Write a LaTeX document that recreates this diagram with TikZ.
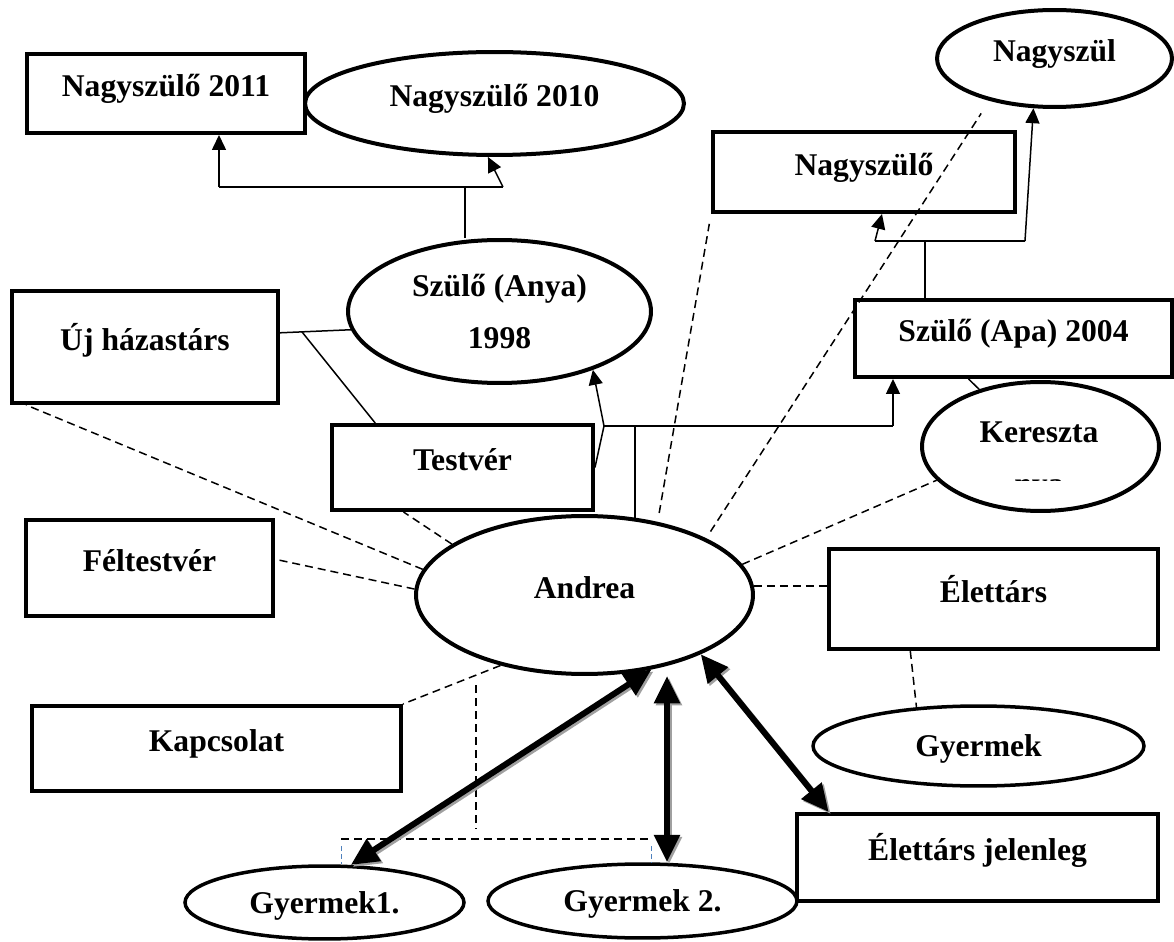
\documentclass[tikz,border=0pt]{standalone}
\usepackage{fontspec}
\setmainfont{Liberation Serif}
\usetikzlibrary{shapes.geometric,arrows.meta,calc}
\definecolor{shadegray}{RGB}{160,160,160}
\definecolor{tickblue}{RGB}{79,129,189}
\tikzset{
    person/.style={draw, line width=0.08cm, fill=white, inner sep=0pt, text height=12.6pt, text depth=9pt},
    oval/.style={ellipse, draw, line width=0.08cm, fill=white, inner sep=0pt},
    ovaltext/.style={text height=12.6pt, text depth=9pt},
    kidoval/.style={oval, line width=0.07cm, text height=16pt, text depth=4pt},
    tie/.style={line width=0.03cm},
    tiearrow/.style={tie, -{Triangle[length=0.3cm,width=0.28cm]}},
    rel/.style={line width=0.03cm, dash pattern=on 0.16cm off 0.1cm},
    kidtick/.style={tickblue, line width=0.02cm, dash pattern=on 0.1cm off 0.06cm},
    bond/.style={line width=0.12cm, {Triangle[length=0.55cm,width=0.5cm]}-{Triangle[length=0.55cm,width=0.5cm]}},
    bondshade/.style={bond, shadegray, transform canvas={xshift=0.04cm, yshift=-0.04cm}}
}

\begin{document}
\begin{tikzpicture}[x=0.02cm, y=-0.02cm, font=\fontsize{18}{22}\selectfont\bfseries]
    \useasboundingbox (0,0) rectangle (1174,942);

    % Grandparents
    \node[person, minimum width=5.56cm, minimum height=1.58cm] (n2011) at (166,93.5) {Nagyszülő 2011};
    \node[oval, ovaltext, minimum width=7.58cm, minimum height=2.06cm] (n2010) at (494.5,103.5) {Nagyszülő 2010};
    \node[oval, ovaltext, minimum width=4.70cm, minimum height=1.94cm] (nagyszul) at (1054.5,58.5) {Nagyszül};
    \node[person, minimum width=6.04cm, minimum height=1.60cm] (nagyszulo) at (864,172) {Nagyszülő};

    % Parents
    \node[oval, minimum width=6.06cm, minimum height=2.86cm, align=center, font=\fontsize{18}{30}\selectfont\bfseries] (anya) at (499.5,311.5) {Szülő (Anya)\\1998};
    \node[person, minimum width=6.34cm, minimum height=1.54cm] (apa) at (1013.5,338.5) {Szülő (Apa) 2004};
    \node[oval, minimum width=4.74cm, minimum height=2.58cm] (kereszt) at (1040.5,446.5) {};
    \begin{scope}
        \clip (900,400) rectangle (1180,481);
        \node[align=center, font=\fontsize{18}{30}\selectfont\bfseries] (keresztnev) at (1039,461.5) {Kereszta\\nya};
    \end{scope}

    % Left side
    \node[person, minimum width=5.32cm, minimum height=2.24cm] (uj) at (145,347) {Új házastárs};
    \node[person, minimum width=5.22cm, minimum height=1.70cm] (testver) at (462.5,467.5) {Testvér};
    \node[person, minimum width=4.94cm, minimum height=1.92cm] (felt) at (149.5,568) {Féltestvér};
    \node[person, minimum width=7.38cm, minimum height=1.70cm] (kapcs) at (216.5,748.5) {Kapcsolat};

    % Andrea
    \node[oval, ovaltext, minimum width=6.74cm, minimum height=3.16cm] (andrea) at (584.5,595) {Andrea};

    % Right side
    \node[person, minimum width=6.58cm, minimum height=2.00cm] (elettars) at (993.5,599) {Élettárs};
    \node[kidoval, minimum width=6.62cm, minimum height=1.60cm] (gyermek) at (978.5,746) {Gyermek};
    \node[person, minimum width=7.22cm, minimum height=1.74cm] (jelenleg) at (977.5,857.5) {Élettárs jelenleg};

    % Children
    \node[kidoval, minimum width=5.58cm, minimum height=1.46cm] (gy1) at (324.5,902.5) {Gyermek1.};
    \node[kidoval, minimum width=6.18cm, minimum height=1.48cm] (gy2) at (642.5,901) {Gyermek 2.};

    % Mother's parents
    \coordinate (mtop) at (465,187);
    \coordinate (mleft) at (219,187);
    \coordinate (mright) at (503,187);
    \draw[tie] (mtop |- anya.north) -- (mtop);
    \draw[tie] (mleft) -- (mright);
    \draw[tiearrow] (mleft) -- (mleft |- n2011.south);
    \draw[tiearrow] (mright) -- (n2010.-97);

    % Father's parents
    \coordinate (ftop) at (925,241);
    \coordinate (fleft) at (875,241);
    \coordinate (fright) at (1025,241);
    \draw[tie] (ftop |- apa.north) -- (ftop);
    \draw[tie] (fleft) -- (fright);
    \draw[tiearrow] (fleft) -- ($(nagyszulo.south)+(18,0)$);
    \draw[tiearrow] (fright) -- (nagyszul.-113);

    % Andrea's parents
    \coordinate (hub) at (633,426);
    \coordinate (hubl) at (604,426);
    \coordinate (hubr) at (893,426);
    \draw[tie] (andrea.57) |- (hub);
    \draw[tie] (hubl) -- (hubr);
    \draw[tiearrow] (hubr) -- (hubr |- apa.south);
    \draw[tiearrow] (hubl) -- (anya.-32);
    \draw[tie] (hubl) -- (testver.east);

    % Solid ties
    \draw[tie] (uj.6) -- coordinate[pos=0.31] (ujmid) (anya.-173);
    \draw[tie] (ujmid) -- (testver.153);
    \draw[tie] (apa.-138) -- (kereszt.137);

    % Dashed relations
    \draw[rel] (andrea.171) -- (uj.-154);
    \draw[rel] (andrea.159) -- (testver.-143);
    \draw[rel] (andrea.178) -- (felt.4);
    \draw[rel] (andrea.-140) -- coordinate[pos=0.25] (kdrop) (kapcs.north east);
    \draw[rel, shorten <=0.18cm, shorten >=0.2cm] (andrea.45) -- (nagyszulo.south west);
    \draw[rel, shorten <=0.16cm, shorten >=0.3cm] (andrea.25) -- (nagyszul.-147);
    \draw[rel] (andrea.11) -- (kereszt.-162);
    \draw[rel] (andrea.3) -- (andrea.3 -| elettars.west);
    \draw[rel] (elettars.-148) -- (gyermek.148);

    % Children bracket
    \coordinate (kidl) at (341,839);
    \coordinate (kidr) at (651,839);
    \draw[rel] ($(kdrop)+(0,10)$) -- ($(kdrop |- kidl)+(0,-10)$);
    \draw[rel] (kidl) -- (kidr);
    \draw[kidtick] ($(kidl)+(0,7)$) -- (kidl |- gy1.north);
    \draw[kidtick] ($(kidr)+(0,7)$) -- (kidr |- gy2.north);

    % Thick links
    \coordinate (g2top) at ($(gy2.north)+(24.5,0)$);
    \draw[bondshade] (andrea.-48) -- (gy1.55);
    \draw[bondshade] (g2top |- andrea.south) -- (g2top);
    \draw[bondshade] (andrea.-27) -- (jelenleg.163);
    \draw[bond] (andrea.-48) -- (gy1.55);
    \draw[bond] (g2top |- andrea.south) -- (g2top);
    \draw[bond] (andrea.-27) -- (jelenleg.163);
\end{tikzpicture}
\end{document}
